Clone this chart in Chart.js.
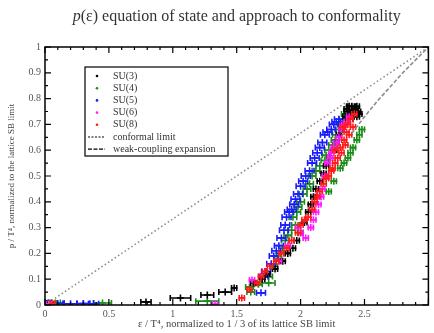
<!DOCTYPE html>
<html>
<head>
<meta charset="utf-8">
<script src="https://cdn.jsdelivr.net/npm/chart.js@4/dist/chart.umd.min.js"></script>
<style>
  html, body { margin: 0; padding: 0; background: #fff; }
</style>
</head>
<body>
<canvas id="eosChart" width="434" height="333"></canvas>
<script>
// Each point: [eps/T^4 (normalized), p/T^4 (normalized), horizontal error]
const su3 = [
  [0.03, 0.008, 0.02], [0.79, 0.012, 0.04], [1.06, 0.027, 0.08], [1.27, 0.039, 0.05],
  [1.41, 0.05, 0.05], [1.48, 0.066, 0.02], [1.63, 0.085, 0.02], [1.7, 0.1, 0.02],
  [1.74, 0.12, 0.02], [1.8, 0.14, 0.02], [1.86, 0.17, 0.02], [1.9, 0.2, 0.02],
  [1.94, 0.22, 0.02], [1.97, 0.25, 0.02], [2.0, 0.28, 0.02], [2.03, 0.32, 0.02],
  [2.06, 0.36, 0.02], [2.08, 0.39, 0.02], [2.1, 0.42, 0.02], [2.12, 0.45, 0.02],
  [2.15, 0.48, 0.02], [2.18, 0.51, 0.02], [2.2, 0.54, 0.02], [2.23, 0.57, 0.02],
  [2.26, 0.6, 0.02], [2.28, 0.63, 0.02], [2.3, 0.66, 0.02], [2.32, 0.68, 0.02],
  [2.34, 0.7, 0.02], [2.35, 0.73, 0.02], [2.38, 0.72, 0.03], [2.37, 0.75, 0.03],
  [2.42, 0.74, 0.03], [2.4, 0.77, 0.03], [2.44, 0.73, 0.02], [2.45, 0.75, 0.02],
  [2.43, 0.76, 0.02], [2.36, 0.76, 0.02], [2.39, 0.74, 0.02], [2.46, 0.74, 0.02],
  [2.41, 0.75, 0.02], [2.44, 0.77, 0.02], [2.38, 0.77, 0.02]
];
const su4 = [
  [0.05, 0.01, 0.03], [0.12, 0.008, 0.03], [0.3, 0.005, 0.05], [0.45, 0.008, 0.07],
  [1.27, 0.015, 0.09], [1.61, 0.05, 0.03], [1.6, 0.07, 0.03], [1.67, 0.08, 0.03],
  [1.75, 0.085, 0.05], [1.75, 0.11, 0.03], [1.79, 0.15, 0.03], [1.82, 0.18, 0.03],
  [1.84, 0.2, 0.03], [1.86, 0.22, 0.03], [1.88, 0.25, 0.03], [1.9, 0.27, 0.03],
  [1.93, 0.29, 0.03], [1.96, 0.31, 0.03], [1.94, 0.34, 0.03], [1.97, 0.36, 0.03],
  [1.98, 0.38, 0.03], [2.0, 0.4, 0.03], [2.02, 0.43, 0.03], [2.05, 0.45, 0.03],
  [2.07, 0.47, 0.03], [2.09, 0.5, 0.03], [2.12, 0.52, 0.03], [2.15, 0.54, 0.03],
  [2.19, 0.56, 0.03], [2.2, 0.58, 0.03], [2.22, 0.6, 0.03], [2.25, 0.62, 0.03],
  [2.27, 0.64, 0.03], [2.28, 0.66, 0.03], [2.3, 0.68, 0.03], [2.32, 0.7, 0.03],
  [2.33, 0.72, 0.03], [2.35, 0.74, 0.03], [2.22, 0.44, 0.02], [2.26, 0.48, 0.02],
  [2.31, 0.53, 0.02], [2.34, 0.55, 0.02], [2.37, 0.57, 0.02], [2.39, 0.59, 0.02],
  [2.41, 0.61, 0.02], [2.44, 0.64, 0.02], [2.46, 0.66, 0.02], [2.48, 0.68, 0.02]
];
const su5 = [
  [0.04, 0.005, 0.02], [0.1, 0.006, 0.04], [0.2, 0.005, 0.05], [0.3, 0.006, 0.05],
  [0.38, 0.005, 0.04], [1.69, 0.047, 0.035], [1.71, 0.11, 0.035], [1.73, 0.13, 0.035],
  [1.77, 0.16, 0.035], [1.79, 0.19, 0.035], [1.81, 0.21, 0.035], [1.83, 0.23, 0.035],
  [1.85, 0.26, 0.035], [1.87, 0.29, 0.035], [1.88, 0.31, 0.035], [1.89, 0.34, 0.035],
  [1.91, 0.36, 0.035], [1.93, 0.37, 0.035], [1.95, 0.39, 0.035], [1.96, 0.41, 0.035],
  [1.98, 0.43, 0.035], [2.0, 0.46, 0.035], [2.02, 0.48, 0.035], [2.04, 0.5, 0.035],
  [2.07, 0.52, 0.035], [2.09, 0.55, 0.035], [2.11, 0.57, 0.035], [2.13, 0.59, 0.035],
  [2.15, 0.61, 0.035], [2.17, 0.63, 0.035], [2.19, 0.66, 0.035], [2.21, 0.67, 0.035],
  [2.24, 0.68, 0.035], [2.26, 0.7, 0.035], [2.28, 0.71, 0.035], [2.3, 0.72, 0.035]
];
const su6 = [
  [0.03, 0.005, 0.02], [1.33, 0.003, 0.02], [1.62, 0.097, 0.02], [1.83, 0.17, 0.02],
  [1.9, 0.23, 0.02], [2.0, 0.28, 0.02], [1.98, 0.3, 0.02], [2.04, 0.26, 0.02],
  [2.08, 0.3, 0.02], [2.1, 0.33, 0.02], [2.12, 0.36, 0.02], [2.14, 0.39, 0.02],
  [2.16, 0.42, 0.02], [2.17, 0.45, 0.02], [2.19, 0.5, 0.02], [2.21, 0.55, 0.02],
  [2.23, 0.57, 0.02], [2.24, 0.59, 0.02], [2.26, 0.61, 0.02], [2.28, 0.63, 0.02],
  [2.3, 0.65, 0.02], [2.32, 0.68, 0.02], [2.34, 0.7, 0.02], [2.36, 0.71, 0.02],
  [2.38, 0.73, 0.02]
];
const su8 = [
  [0.06, 0.006, 0.02], [1.54, 0.027, 0.02], [1.6, 0.06, 0.02], [1.66, 0.085, 0.02],
  [1.69, 0.11, 0.02], [1.72, 0.13, 0.02], [1.76, 0.15, 0.02], [1.81, 0.17, 0.02],
  [1.85, 0.2, 0.02], [1.89, 0.22, 0.02], [1.93, 0.25, 0.02], [1.98, 0.28, 0.02],
  [2.0, 0.31, 0.02], [2.03, 0.33, 0.02], [2.06, 0.34, 0.02], [2.09, 0.37, 0.02],
  [2.11, 0.4, 0.02], [2.13, 0.42, 0.02], [2.15, 0.44, 0.02], [2.18, 0.47, 0.02],
  [2.2, 0.49, 0.02], [2.22, 0.5, 0.02], [2.24, 0.52, 0.02], [2.25, 0.53, 0.02],
  [2.27, 0.55, 0.02], [2.29, 0.57, 0.02], [2.32, 0.59, 0.02], [2.27, 0.6, 0.02],
  [2.31, 0.61, 0.02], [2.35, 0.62, 0.02], [2.34, 0.64, 0.02], [2.38, 0.66, 0.02],
  [2.36, 0.67, 0.02], [2.41, 0.69, 0.02], [2.33, 0.69, 0.02], [2.37, 0.7, 0.02],
  [2.39, 0.72, 0.02], [2.42, 0.74, 0.02]
];

const conformalEps = [0, 3];
const conformalP = [0, 1];
const weakEps = [2.4, 2.5, 2.6, 2.7, 2.8, 2.9, 3.0];
const weakP = [0.665, 0.73, 0.79, 0.845, 0.9, 0.95, 1.0];

const seriesNames = ['SU(3)', 'SU(4)', 'SU(5)', 'SU(6)', 'SU(8)'];
const seriesColors = ['#000000', '#1a8c1a', '#1a1aff', '#ff1aff', '#ff1a1a'];
const seriesData = [su3, su4, su5, su6, su8];

const serif = "'Liberation Serif', 'DejaVu Serif', serif";

function pointsOf(series) {
  return series.map(p => ({ x: p[0], y: p[1] }));
}

// Draw order: first dataset ends up on top
const drawOrder = [4, 3, 0, 2, 1];
const pointSets = drawOrder.map(i => ({
  label: seriesNames[i],
  data: pointsOf(seriesData[i]),
  errs: seriesData[i].map(p => p[2]),
  borderColor: seriesColors[i],
  backgroundColor: seriesColors[i],
  pointStyle: 'cross',
  pointRadius: 3.5,
  pointBorderWidth: 1.6,
  showLine: false
}));

const lineSets = [
  {
    label: 'conformal limit',
    data: conformalEps.map((e, i) => ({ x: e, y: conformalP[i] })),
    showLine: true, borderColor: '#8c8c8c', borderWidth: 1.6,
    borderDash: [1.5, 2.5], pointRadius: 0, fill: false
  },
  {
    label: 'weak-coupling expansion',
    data: weakEps.map((e, i) => ({ x: e, y: weakP[i] })),
    showLine: true, borderColor: '#8c8c8c', borderWidth: 1.6,
    borderDash: [4, 2], pointRadius: 0, fill: false
  }
];

// horizontal error bars with end caps, drawn right after each dataset
const errorBars = {
  id: 'errorBars',
  afterDatasetDraw(chart, args) {
    const ds = chart.data.datasets[args.index];
    if (!ds.errs) return;
    const { ctx, chartArea, scales: { x, y } } = chart;
    ctx.save();
    ctx.beginPath();
    ctx.rect(chartArea.left, chartArea.top, chartArea.right - chartArea.left, chartArea.bottom - chartArea.top);
    ctx.clip();
    ctx.strokeStyle = ds.borderColor;
    ctx.lineWidth = 1.6;
    ds.data.forEach((pt, i) => {
      const xl = x.getPixelForValue(pt.x - ds.errs[i]);
      const xr = x.getPixelForValue(pt.x + ds.errs[i]);
      const py = y.getPixelForValue(pt.y);
      ctx.beginPath();
      ctx.moveTo(xl, py); ctx.lineTo(xr, py);
      ctx.moveTo(xl, py - 3); ctx.lineTo(xl, py + 3);
      ctx.moveTo(xr, py - 3); ctx.lineTo(xr, py + 3);
      ctx.stroke();
    });
    ctx.restore();
  }
};

// frame with inward ticks on all four sides, title and legend box
const frameAndLegend = {
  id: 'frameAndLegend',
  afterDraw(chart) {
    const { ctx, chartArea: a, scales: { x, y } } = chart;
    ctx.save();
    ctx.strokeStyle = '#000';
    ctx.lineWidth = 1.5;
    ctx.strokeRect(a.left, a.top, a.right - a.left, a.bottom - a.top);

    ctx.lineWidth = 1.2;
    ctx.beginPath();
    for (let k = 0; k <= 30; k++) {
      const px = x.getPixelForValue(k / 10);
      const len = k % 5 === 0 ? 6 : 3;
      ctx.moveTo(px, a.bottom); ctx.lineTo(px, a.bottom - len);
      ctx.moveTo(px, a.top); ctx.lineTo(px, a.top + len);
    }
    for (let k = 0; k <= 20; k++) {
      const py = y.getPixelForValue(k / 20);
      const len = k % 2 === 0 ? 6 : 3;
      ctx.moveTo(a.left, py); ctx.lineTo(a.left + len, py);
      ctx.moveTo(a.right, py); ctx.lineTo(a.right - len, py);
    }
    ctx.stroke();

    // title, centred over the plot area
    const cx = (a.left + a.right) / 2;
    const rest = ' equation of state and approach to conformality';
    ctx.fillStyle = '#333';
    ctx.textBaseline = 'alphabetic';
    ctx.font = 'italic 16px ' + serif;
    const wP = ctx.measureText('p').width;
    ctx.font = '16px ' + serif;
    const wRest = ctx.measureText('(\u03b5)' + rest).width;
    const tx = cx - (wP + wRest) / 2;
    ctx.textAlign = 'left';
    ctx.font = 'italic 16px ' + serif;
    ctx.fillText('p', tx, 21);
    ctx.font = '16px ' + serif;
    ctx.fillText('(\u03b5)' + rest, tx + wP, 21);

    // legend
    const lx = 85, ly = 67, lw = 143, lh = 89;
    ctx.fillStyle = '#fff';
    ctx.fillRect(lx, ly, lw, lh);
    ctx.strokeStyle = '#000';
    ctx.lineWidth = 1.2;
    ctx.strokeRect(lx, ly, lw, lh);
    ctx.font = '10px ' + serif;
    ctx.textBaseline = 'middle';
    seriesNames.forEach((name, i) => {
      const ry = ly + 9 + i * 12.2;
      ctx.fillStyle = seriesColors[i];
      ctx.beginPath();
      ctx.arc(lx + 12, ry, 1.3, 0, Math.PI * 2);
      ctx.fill();
      ctx.fillStyle = '#333';
      ctx.fillText(name, lx + 28, ry);
    });
    lineSets.forEach((ls, i) => {
      const ry = ly + 9 + (5 + i) * 12.2;
      ctx.strokeStyle = '#000';
      ctx.lineWidth = 1.2;
      ctx.setLineDash(i === 0 ? [2, 1.5] : [4, 1.5]);
      ctx.beginPath();
      ctx.moveTo(lx + 3, ry); ctx.lineTo(lx + 20, ry);
      ctx.stroke();
      ctx.setLineDash([]);
      ctx.fillStyle = '#333';
      ctx.fillText(ls.label, lx + 28, ry);
    });
    ctx.restore();
  }
};

new Chart(document.getElementById('eosChart'), {
  type: 'scatter',
  data: { datasets: [...lineSets, ...pointSets] },
  options: {
    responsive: false,
    animation: false,
    layout: { padding: { top: 47, right: 3, left: 0, bottom: 0 } },
    plugins: { legend: { display: false }, tooltip: { enabled: false }, title: { display: false } },
    scales: {
      x: {
        type: 'linear', min: 0, max: 3,
        grid: { display: false, drawTicks: false },
        border: { display: false },
        ticks: {
          stepSize: 0.5, padding: 3, color: '#555',
          font: { family: serif, size: 10 },
          callback: v => (v === 3 ? '' : String(+v.toFixed(1)))
        },
        title: {
          display: true, color: '#444', padding: { top: 0, bottom: 2 },
          text: '\u03b5 / T\u2074, normalized to 1 / 3 of its lattice SB limit',
          font: { family: serif, size: 10.5 }
        },
        afterFit: s => { s.height = 28; }
      },
      y: {
        type: 'linear', min: 0, max: 1,
        grid: { display: false, drawTicks: false },
        border: { display: false },
        ticks: {
          stepSize: 0.1, padding: 4, color: '#555',
          font: { family: serif, size: 10 },
          callback: v => String(+v.toFixed(1))
        },
        title: {
          display: true, color: '#444', padding: { top: 6, bottom: 0 },
          text: 'p / T\u2074, normalized to the lattice SB limit',
          font: { family: serif, size: 9 }
        },
        afterFit: s => { s.width = 45; }
      }
    }
  },
  plugins: [errorBars, frameAndLegend]
});
</script>
</body>
</html>
